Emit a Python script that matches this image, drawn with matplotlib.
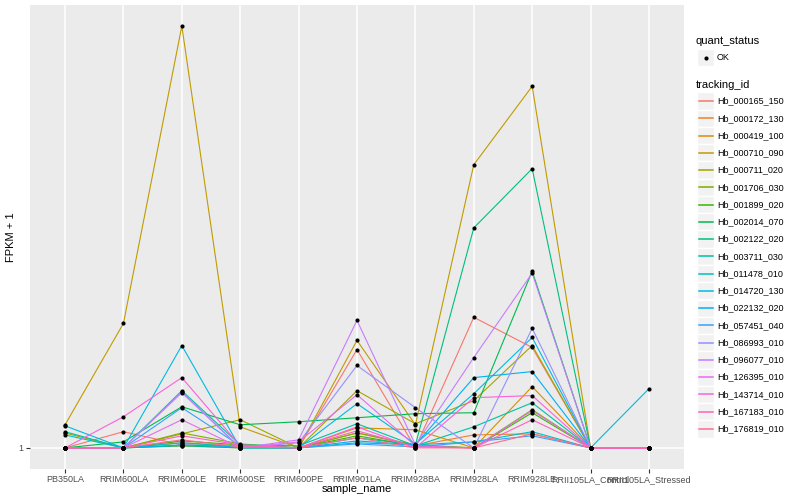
import numpy as np
import matplotlib
matplotlib.use("Agg")
import matplotlib.pyplot as plt
from matplotlib.patches import Rectangle
from matplotlib.ticker import NullLocator

plt.rcParams['font.family'] = ['Liberation Sans', 'DejaVu Sans']

#%% data (FPKM, the axis shows FPKM + 1 on a log scale)
samples = ["PB350LA", "RRIM600LA", "RRIM600LE", "RRIM600SE", "RRIM600PE",
           "RRIM901LA", "RRIM928BA", "RRIM928LA", "RRIM928LE",
           "RRII105LA_Control", "RRII105LA_Stressed"]

tracking_ids = ["Hb_000165_150", "Hb_000172_130", "Hb_000419_100", "Hb_000710_090",
                "Hb_000711_020", "Hb_001706_030", "Hb_001899_020", "Hb_002014_070",
                "Hb_002122_020", "Hb_003711_030", "Hb_011478_010", "Hb_014720_130",
                "Hb_022132_020", "Hb_057451_040", "Hb_086993_010", "Hb_096077_010",
                "Hb_126395_010", "Hb_143714_010", "Hb_167183_010", "Hb_176819_010"]

hb_000165_150 = [0, 0.088, 0.016, 0.011, 0, 0.669, 0, 0.974, 0.687, 0, 0]
hb_000172_130 = [0, 0, 0.027, 0.011, 0, 0.081, 0.011, 0.070, 0.076, 0, 0]
hb_000419_100 = [0, 0, 0.011, 0, 0, 0.110, 0.099, 0, 0.376, 0, 0]
hb_000710_090 = [0.128, 0.912, 7.99, 0.116, 0, 0.750, 0.128, 3.369, 5.571, 0, 0]
hb_000711_020 = [0.081, 0, 0.076, 0.158, 0, 0.347, 0.134, 0.279, 0.704, 0, 0]
hb_001706_030 = [0, 0, 0.081, 0.021, 0, 0.081, 0.016, 0, 0.220, 0, 0]
hb_001899_020 = [0, 0, 0.037, 0.016, 0, 0.065, 0.011, 0, 0.201, 0, 0]
hb_002014_070 = [0, 0.032, 0.239, 0.128, 0.146, 0.170, 0.195, 0.201, 1.510, 0, 0]
hb_002122_020 = [0, 0, 0.011, 0, 0, 0.054, 0.016, 2.144, 3.279, 0, 0]
hb_003711_030 = [0.088, 0, 0.347, 0.016, 0.011, 0.134, 0.011, 0.116, 0.265, 0, 0]
hb_011478_010 = [0.070, 0, 0.027, 0.005, 0, 0.027, 0.016, 0.032, 0.088, 0, 0]
hb_014720_130 = [0.122, 0, 0.704, 0, 0, 0.259, 0.021, 0.326, 0.777, 0, 0.361]
hb_022132_020 = [0, 0, 0.016, 0.005, 0, 0.037, 0.016, 0.442, 0.488, 0, 0]
hb_057451_040 = [0, 0, 0.233, 0.011, 0, 0.021, 0.005, 0.032, 0.065, 0, 0]
hb_086993_010 = [0, 0, 0.340, 0, 0.027, 0.536, 0.233, 0, 0.863, 0, 0]
hb_096077_010 = [0, 0, 0.333, 0, 0.043, 0.942, 0.016, 0.601, 1.484, 0, 0]
hb_126395_010 = [0, 0, 0.158, 0, 0.032, 0.319, 0.011, 0, 0.214, 0, 0]
hb_143714_010 = [0, 0.176, 0.442, 0.011, 0, 0.116, 0, 0.299, 0.313, 0, 0]
hb_167183_010 = [0, 0, 0.065, 0.016, 0, 0.093, 0.005, 0, 0.158, 0, 0]
hb_176819_010 = [0, 0, 0.043, 0.005, 0, 0.054, 0, 0, 0.076, 0, 0]

series = [hb_000165_150, hb_000172_130, hb_000419_100, hb_000710_090,
          hb_000711_020, hb_001706_030, hb_001899_020, hb_002014_070,
          hb_002122_020, hb_003711_030, hb_011478_010, hb_014720_130,
          hb_022132_020, hb_057451_040, hb_086993_010, hb_096077_010,
          hb_126395_010, hb_143714_010, hb_167183_010, hb_176819_010]

# ggplot default hue palette for 20 groups
colours = ["#F8766D", "#EA8331", "#D89000", "#C09B00", "#A3A500", "#7CAE00",
           "#39B600", "#00BB4E", "#00BF7D", "#00C1A3", "#00BFC4", "#00BAE0",
           "#00B0F6", "#35A2FF", "#9590FF", "#C77CFF", "#E76BF3", "#FA62DB",
           "#FF62BC", "#FF6C91"]

#%% main panel
fig = plt.figure(figsize=(8, 5), dpi=100)
ax = fig.add_axes([30/800, 31/500, 654/800, 464/500])
ax.set_facecolor("#EBEBEB")
for s in ax.spines.values():
    s.set_visible(False)

x = np.arange(len(samples))
allvals = []
for vals, col in zip(series, colours):
    y = np.array(vals) + 1
    allvals.extend(y)
    ax.plot(x, y, color=col, lw=0.8, zorder=2)
for vals in series:
    ax.scatter(x, np.array(vals) + 1, s=9, color="black", zorder=3, linewidths=0)

ax.set_yscale("log")
lmin, lmax = np.log10(min(allvals)), np.log10(max(allvals))
pad = 0.05 * (lmax - lmin)
ax.set_ylim(10**(lmin - pad), 10**(lmax + pad))
ax.set_xlim(-0.6, len(samples) - 0.4)
ax.set_yticks([1])
ax.set_yticklabels(["1"])
ax.yaxis.set_minor_locator(NullLocator())
ax.set_xticks(x)
ax.set_xticklabels(samples)
ax.grid(True, color="white", lw=1.1, zorder=0)
ax.set_axisbelow(True)
ax.tick_params(length=3, width=0.8, color="#333333", labelsize=6.5,
               labelcolor="#4D4D4D", pad=1.5)
ax.set_xlabel("sample_name", fontsize=8, labelpad=0)
ax.set_ylabel("FPKM + 1", fontsize=8, labelpad=0)
ax.yaxis.set_label_coords(-14/654, 0.5)

#%% legend drawn in pixel coordinates
leg = fig.add_axes([0, 0, 1, 1], facecolor="none")
leg.set_xlim(0, 800)
leg.set_ylim(500, 0)
leg.axis("off")

leg.text(696, 41, "quant_status", fontsize=8, va="center")
leg.add_patch(Rectangle((697, 49), 17, 17, facecolor="#F2F2F2", edgecolor="white"))
leg.scatter([705.5], [57.5], s=9, color="black", linewidths=0)
leg.text(717, 57.5, "OK", fontsize=6.5, va="center")

leg.text(696, 85, "tracking_id", fontsize=8, va="center")
for i, (name, col) in enumerate(zip(tracking_ids, colours)):
    yc = 101 + i * 17.26
    leg.add_patch(Rectangle((697, yc - 8.6), 17, 17.2, facecolor="#F2F2F2",
                            edgecolor="white"))
    leg.plot([698.5, 712.5], [yc, yc], color=col, lw=1.1)
    leg.text(717, yc, name, fontsize=6.5, va="center")

fig.savefig("out.png", dpi=100)
